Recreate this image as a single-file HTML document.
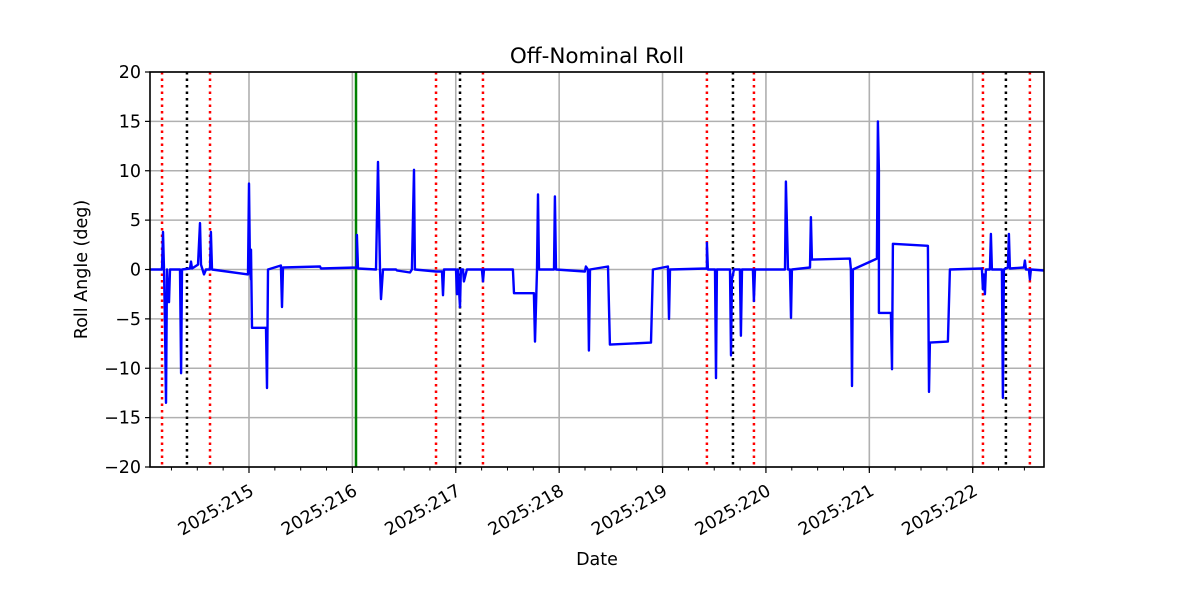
<!DOCTYPE html>
<html><head><meta charset="utf-8"><style>
body{margin:0;background:#fff}
svg text{font-family:"DejaVu Sans","Liberation Sans",sans-serif;fill:#000}
</style></head><body>
<svg id="c" width="1200" height="600" xmlns="http://www.w3.org/2000/svg"></svg>
<script>
const xTickDays=[215,216,217,218,219,220,221,222];
const xTickLabels=["2025:215","2025:216","2025:217","2025:218","2025:219","2025:220","2025:221","2025:222"];
const yTicks=[-20,-15,-10,-5,0,5,10,15,20];
const redLines=[214.159,214.623,216.809,217.263,219.429,219.884,222.099,222.553];
const blackLines=[214.400,217.041,219.681,222.321];
const greenLines=[216.035];
const days=[214.043,214.159,214.168,214.178,214.187,214.197,214.207,214.217,214.226,214.236,214.333,214.343,214.352,214.429,214.439,214.449,214.507,214.526,214.536,214.565,214.584,214.623,214.632,214.642,214.990,215.000,215.010,215.019,215.019,215.029,215.164,215.174,215.184,215.309,215.319,215.329,215.687,215.696,216.044,216.044,216.054,216.228,216.248,216.267,216.277,216.296,216.422,216.431,216.557,216.576,216.596,216.605,216.809,216.867,216.876,216.886,217.002,217.012,217.021,217.041,217.050,217.070,217.079,217.108,217.253,217.263,217.273,217.553,217.563,217.756,217.766,217.786,217.795,217.805,217.950,217.959,217.969,218.249,218.259,218.278,218.288,218.298,218.472,218.491,218.888,218.907,219.052,219.062,219.072,219.429,219.429,219.439,219.507,219.517,219.526,219.652,219.662,219.671,219.691,219.748,219.758,219.768,219.874,219.884,219.894,220.184,220.193,220.213,220.232,220.242,220.251,220.426,220.435,220.445,220.812,220.822,220.832,220.841,221.073,221.083,221.093,221.093,221.209,221.219,221.228,221.567,221.577,221.586,221.760,221.779,222.089,222.099,222.108,222.118,222.128,222.166,222.176,222.186,222.282,222.292,222.302,222.340,222.350,222.360,222.495,222.505,222.514,222.543,222.553,222.563,222.689];
const roll=[0,0,3.8,0,-5,-13.5,0,-3,-3.3,0,0,-10.5,0,0.1,0.8,0.1,0.5,4.7,0.5,-0.5,0,0,3.8,0,-0.5,8.7,0,-1,2,-5.9,-5.9,-12,0,0.4,-3.8,0.2,0.3,0.1,0.2,3.5,0.1,0,10.9,0,-3,0,0,-0.1,-0.3,0,10.1,0,-0.2,-0.2,-2.6,0,0,-2.5,0,-3.8,0,0,-1.2,0,0,-1.2,0,0,-2.4,-2.4,-7.3,0,7.6,0,0,7.4,0,-0.2,0.3,0,-8.2,0,0.3,-7.6,-7.4,0,0.3,-5,0,0.1,2.7,0,0,-11,0,0,-8.7,-1,0,0,-6.7,0,0,-3.2,0,0,8.9,0,0,-4.9,0,0.2,5.3,1,1.1,0,-11.8,0,1.1,15,10,-4.4,-4.4,-10.1,2.6,2.4,-12.4,-7.4,-7.3,0,0.1,-2,-0.5,-2.5,0,0,3.6,0,0,-13,0,0.2,3.6,0.1,0.2,0.9,0,0,-1,0,-0.1];

const L=150,R=1044,T=72,B=467,D0=214.0425,D1=222.6895;
const sx=d=>L+(d-D0)/(D1-D0)*(R-L);
const sy=v=>B-(v+20)/40*(B-T);
const svg=document.getElementById('c');
const NS='http://www.w3.org/2000/svg';
function mk(tag,attrs,parent){const e=document.createElementNS(NS,tag);for(const k in attrs)e.setAttribute(k,attrs[k]);(parent||svg).appendChild(e);return e;}

for(const d of xTickDays){const g=mk('line',{x1:sx(d),x2:sx(d),y1:T,y2:B,stroke:'#b0b0b0','stroke-width':1.6});

}
for(const v of yTicks){const g=mk('line',{x1:L,x2:R,y1:sy(v),y2:sy(v),stroke:'#b0b0b0','stroke-width':1.6});

}
for(const d of redLines){const e=mk('line',{x1:sx(d),x2:sx(d),y1:T,y2:B,stroke:'#ff0000','stroke-width':2.5,'stroke-dasharray':'2.5 4'});

}
for(const d of blackLines){const e=mk('line',{x1:sx(d),x2:sx(d),y1:T,y2:B,stroke:'#000','stroke-width':2.5,'stroke-dasharray':'2.5 4'});

}
for(const d of greenLines){const e=mk('line',{x1:sx(d),x2:sx(d),y1:T,y2:B,stroke:'#008000','stroke-width':2.5});

}
const pts=days.map((d,i)=>sx(d).toFixed(1)+','+sy(roll[i]).toFixed(1)).join(' ');
const pl=mk('polyline',{points:pts,fill:'none',stroke:'#0000ff','stroke-width':2.4,'stroke-linejoin':'round'});


const fr=mk('rect',{x:L,y:T,width:R-L,height:B-T,fill:'none',stroke:'#000','stroke-width':1.6});


for(const v of yTicks){mk('line',{x1:L-5,x2:L,y1:sy(v),y2:sy(v),stroke:'#000','stroke-width':1.2});
const t=mk('text',{x:L-9,y:sy(v)+6,'text-anchor':'end','font-size':17.5});t.textContent=(v<0?'\u2212'+(-v):v);

}
for(let d=214.25;d<D1;d+=0.25){mk('line',{x1:sx(d),x2:sx(d),y1:B,y2:B+3.5,stroke:'#000','stroke-width':1});}
xTickDays.forEach((d,i)=>{mk('line',{x1:sx(d),x2:sx(d),y1:B,y2:B+6,stroke:'#000','stroke-width':1.2});
const t=mk('text',{x:0,y:0,'text-anchor':'end','font-size':17.5,transform:`translate(${sx(d)+6},${B+27}) rotate(-30)`});
t.textContent=xTickLabels[i];

});
const ti=mk('text',{x:(L+R)/2,y:63,'text-anchor':'middle','font-size':21.5});ti.textContent='Off-Nominal Roll';


const xl=mk('text',{x:(L+R)/2,y:565,'text-anchor':'middle','font-size':17.5});xl.textContent='Date';


const yl=mk('text',{x:0,y:0,'text-anchor':'middle','font-size':17.5,transform:`translate(87,${(T+B)/2}) rotate(-90)`});yl.textContent='Roll Angle (deg)';


</script>
</body></html>
